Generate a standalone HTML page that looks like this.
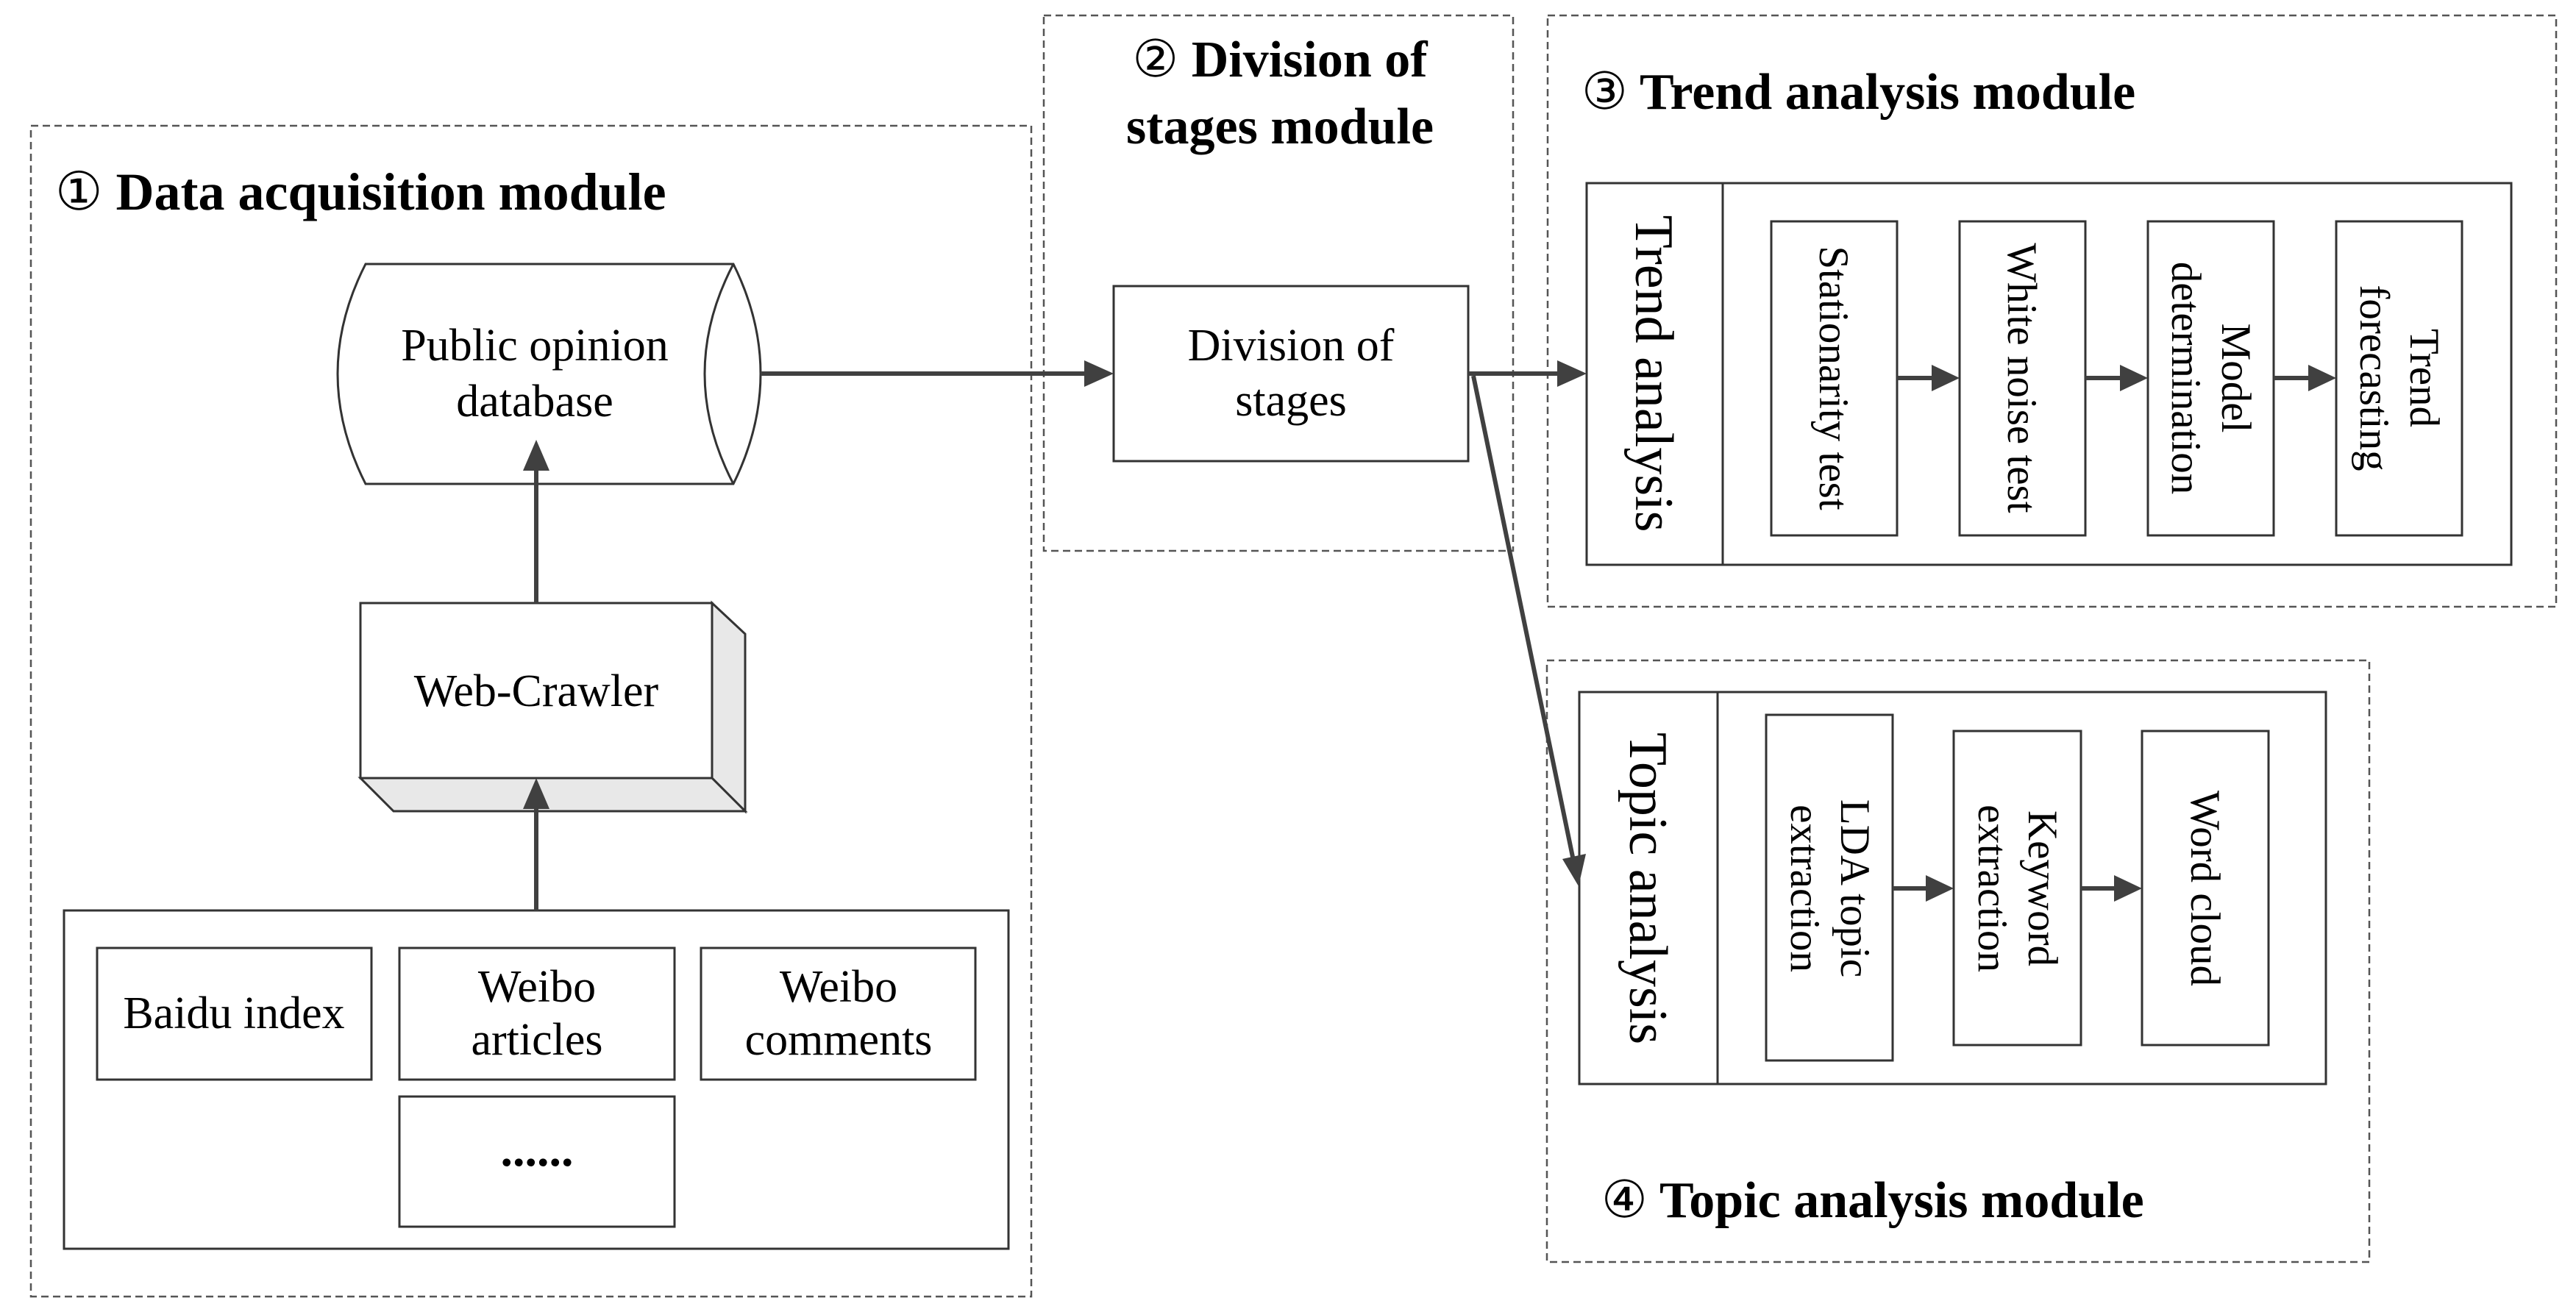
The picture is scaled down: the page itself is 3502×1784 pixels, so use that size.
<!DOCTYPE html>
<html><head><meta charset="utf-8"><style>
html,body{margin:0;padding:0;background:#fff;}
svg{display:block;}
text{font-family:"Liberation Serif",serif;fill:#000;}
.b{font-weight:bold;}
.n{font-weight:normal;}
</style></head><body>
<svg width="3502" height="1784" viewBox="0 0 3502 1784" xmlns="http://www.w3.org/2000/svg">
<g fill="none" stroke="#555" stroke-width="2.5" stroke-dasharray="10,6">
<rect x="42" y="171" width="1360" height="1592"/>
<rect x="1419" y="21" width="638" height="728"/>
<rect x="2104" y="21" width="1371" height="804"/>
<rect x="2103" y="898" width="1118" height="818"/>
</g>
<text x="75" y="285" font-size="72" class="b"><tspan class="n">①</tspan> Data acquisition module</text>
<text x="1740" y="104" font-size="70" class="b" text-anchor="middle"><tspan class="n">②</tspan> Division of</text>
<text x="1740" y="195" font-size="70" class="b" text-anchor="middle">stages module</text>
<text x="2150" y="148" font-size="70" class="b"><tspan class="n">③</tspan> Trend analysis module</text>
<text x="2177" y="1655" font-size="70" class="b"><tspan class="n">④</tspan> Topic analysis module</text>

<g stroke="#333" stroke-width="3" fill="#fff">
<path d="M497,359 L997,359 Q1071,508 997,658 L497,658 Q421,508 497,359 Z"/>
<path d="M997,359 Q919,508 997,658" fill="none"/>
<polygon points="968,820 1013,862 1013,1103 968,1058" fill="#e8e8e8"/>
<polygon points="490,1058 535,1103 1013,1103 968,1058" fill="#e8e8e8"/>
<rect x="490" y="820" width="478" height="238"/>
<rect x="87" y="1238" width="1284" height="460"/>
<rect x="132" y="1289" width="373" height="179"/>
<rect x="543" y="1289" width="374" height="179"/>
<rect x="953" y="1289" width="373" height="179"/>
<rect x="543" y="1491" width="374" height="177"/>
<rect x="1514" y="389" width="482" height="238"/>
<rect x="2157" y="249" width="1257" height="519"/>
<line x1="2342" y1="249" x2="2342" y2="768"/>
<rect x="2408" y="301" width="171" height="427"/>
<rect x="2664" y="301" width="171" height="427"/>
<rect x="2920" y="301" width="171" height="427"/>
<rect x="3176" y="301" width="171" height="427"/>
<rect x="2147" y="941" width="1015" height="533"/>
<line x1="2335" y1="941" x2="2335" y2="1474"/>
<rect x="2401" y="972" width="172" height="470"/>
<rect x="2656" y="994" width="173" height="427"/>
<rect x="2912" y="994" width="172" height="427"/>
</g>

<g font-size="62" text-anchor="middle">
<text x="727" y="490">Public opinion</text>
<text x="727" y="566">database</text>
<text x="729" y="960">Web-Crawler</text>
<text x="318" y="1398">Baidu index</text>
<text x="730" y="1362">Weibo</text>
<text x="730" y="1434">articles</text>
<text x="1140" y="1362">Weibo</text>
<text x="1140" y="1434">comments</text>
<text x="730" y="1585" class="b" font-size="66">......</text>
<text x="1755" y="490">Division of</text>
<text x="1755" y="565">stages</text>
</g>

<g text-anchor="middle">
<text transform="translate(2249,508) rotate(90)" font-size="74" y="25">Trend analysis</text>
<text transform="translate(2493,514) rotate(90)" font-size="57" y="19">Stationarity test</text>
<text transform="translate(2749,514) rotate(90)" font-size="57" y="19">White noise test</text>
<text transform="translate(3005,514) rotate(90)" font-size="57"><tspan x="0" y="-16">Model</tspan><tspan x="0" y="52">determination</tspan></text>
<text transform="translate(3261,514) rotate(90)" font-size="57"><tspan x="0" y="-16">Trend</tspan><tspan x="0" y="52">forecasting</tspan></text>
<text transform="translate(2241,1208) rotate(90)" font-size="74" y="25">Topic analysis</text>
<text transform="translate(2487,1208) rotate(90)" font-size="57"><tspan x="0" y="-16">LDA topic</tspan><tspan x="0" y="52">extraction</tspan></text>
<text transform="translate(2742,1208) rotate(90)" font-size="57"><tspan x="0" y="-16">Keyword</tspan><tspan x="0" y="52">extraction</tspan></text>
<text transform="translate(2998,1208) rotate(90)" font-size="57" y="19">Word cloud</text>
</g>

<g stroke="#404040" stroke-width="6" fill="none">
<line x1="1034" y1="508" x2="1480" y2="508"/>
<line x1="729" y1="820" x2="729" y2="640"/>
<line x1="729" y1="1238" x2="729" y2="1100"/>
<line x1="1996" y1="508" x2="2120" y2="508"/>
<line x1="2579" y1="514" x2="2630" y2="514"/>
<line x1="2835" y1="514" x2="2886" y2="514"/>
<line x1="3091" y1="514" x2="3142" y2="514"/>
<line x1="2573" y1="1208" x2="2622" y2="1208"/>
<line x1="2829" y1="1208" x2="2878" y2="1208"/>
<line x1="2003" y1="511" x2="2139" y2="1170"/>
</g>
<g fill="#404040">
<polygon points="1514,508 1474,490 1474,526"/>
<polygon points="729,598 711,640 747,640"/>
<polygon points="729,1058 711,1100 747,1100"/>
<polygon points="2157,508 2117,490 2117,526"/>
<polygon points="2664,514 2626,496 2626,532"/>
<polygon points="2920,514 2882,496 2882,532"/>
<polygon points="3176,514 3138,496 3138,532"/>
<polygon points="2656,1208 2618,1190 2618,1226"/>
<polygon points="2912,1208 2874,1190 2874,1226"/>
<polygon points="2146,1205 2124,1168 2156,1161"/>
</g>
</svg>
</body></html>
